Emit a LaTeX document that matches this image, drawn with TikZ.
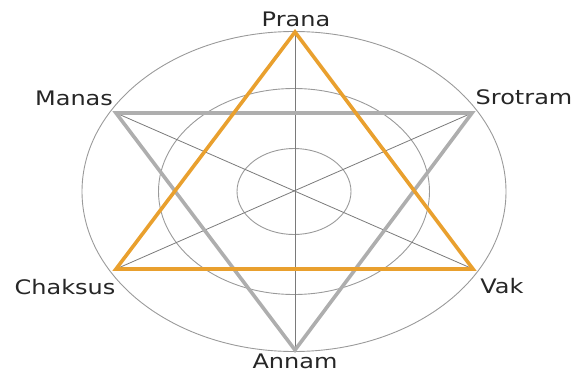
\documentclass[tikz,border=0pt]{standalone}
\usepackage{fontspec}
\setmainfont{DejaVu Sans}
\usepackage{xcolor}
\usetikzlibrary{positioning}

\definecolor{ringgray}{HTML}{9A9A9A}
\definecolor{spokegray}{HTML}{7A7A7A}
\definecolor{trigray}{HTML}{AEAEAE}
\definecolor{triorange}{HTML}{E9A02E}

\begin{document}
\begin{tikzpicture}[
    x=1pt, y=-1pt,
    ring/.style={draw=ringgray, line width=0.9pt},
    spoke/.style={draw=spokegray, line width=0.8pt},
    tri/.style={line width=3.6pt, line join=miter, miter limit=10},
    lbl/.style={font=\fontsize{20}{24}\selectfont, text=black!85,
      anchor=base, inner sep=0pt, xscale=1.2}
  ]
    \useasboundingbox (0,0) rectangle (579,372);

    % Rings
    \coordinate (centre) at (294,191.5);
    \draw[ring] (centre) ellipse [x radius=212, y radius=160];
    \draw[ring] (centre) ellipse [x radius=135.5, y radius=103];
    \draw[ring] (centre) ellipse [x radius=57, y radius=43];

    % Vertices
    \coordinate (prana) at (295,32);
    \coordinate (annam) at (295,350);
    \coordinate (manas) at (116,113);
    \coordinate (srotram) at (472,113);
    \coordinate (chaksus) at (116,269);
    \coordinate (vak) at (473,269);

    % Spokes
    \draw[spoke] (prana) -- (annam);
    \draw[spoke] (manas) -- (vak);
    \draw[spoke] (srotram) -- (chaksus);

    % Triangles
    \draw[tri, draw=trigray] (manas) -- (srotram) -- (annam) -- cycle;
    \draw[tri, draw=triorange] (prana) -- (vak) -- (chaksus) -- cycle;

    % Labels
    \node[lbl] (lprana) at (296,27) {Prana};
    \node[lbl] (lmanas) at (74,105) {Manas};
    \node[lbl] (lsrotram) at (524,104) {Srotram};
    \node[lbl] (lchaksus) at (65,294) {Chaksus};
    \node[lbl] (lvak) at (502,293) {Vak};
    \node[lbl] (lannam) at (295,368) {Annam};
  \end{tikzpicture}
\end{document}
